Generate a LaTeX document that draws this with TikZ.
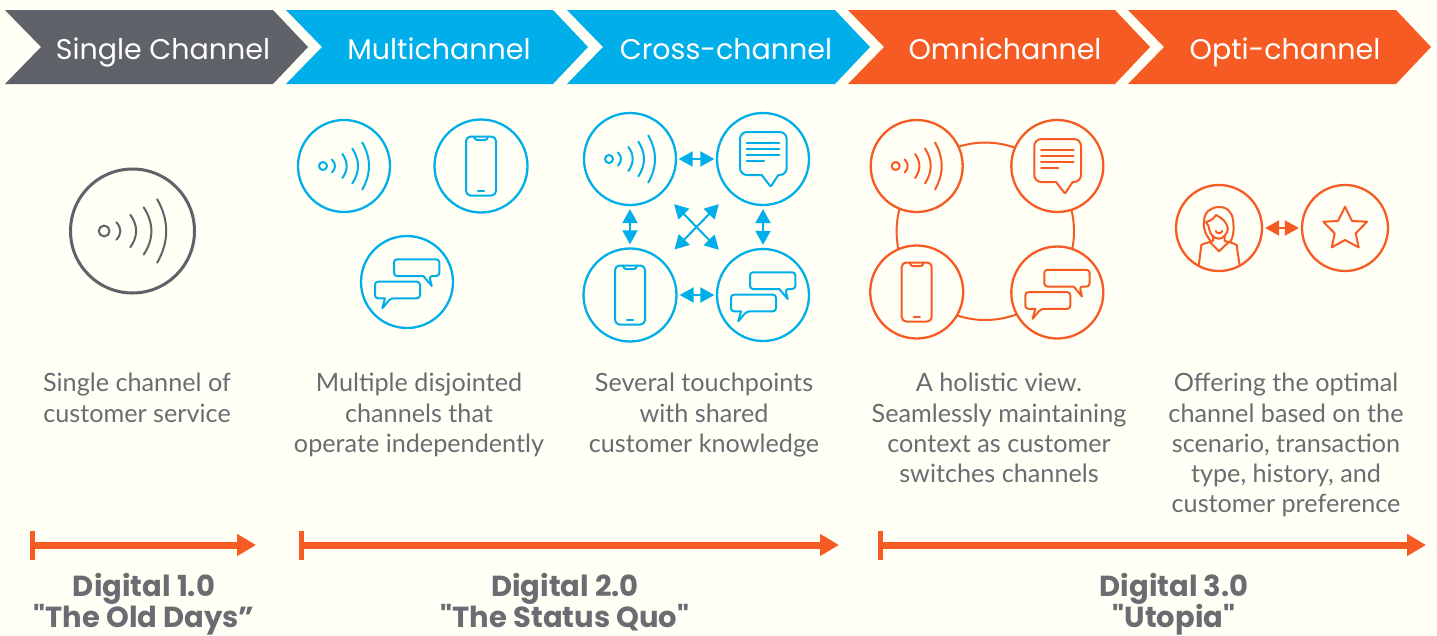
\documentclass[tikz,border=0pt]{standalone}
\usepackage{fontspec}
\setmainfont{Lato}
\newfontfamily\headfont{Poppins}
\usetikzlibrary{arrows.meta}
\definecolor{bgc}{HTML}{FFFFF5}
\definecolor{greyc}{HTML}{606269}
\definecolor{bluec}{HTML}{00AEEA}
\definecolor{orangec}{HTML}{F55B23}
\definecolor{textc}{HTML}{6A6C72}
\tikzset{
  ring/.style={circle,draw=#1,line width=2.3pt,fill=bgc,inner sep=0pt},
  icon/.style={draw=#1,line width=2pt,line join=round,line cap=round},
  chevlabel/.style={text=white,anchor=base,inner sep=0pt,font=\headfont\fontsize{28.5}{32}\selectfont},
  bodytext/.style={text=textc,align=center,anchor=north,inner sep=0pt,font=\fontsize{25.2}{30.3}\selectfont},
  eralabel/.style={text=textc,align=center,anchor=base,inner sep=0pt,font=\headfont\bfseries\fontsize{29}{35}\selectfont},
  link/.style={draw=#1,line width=2pt,{Triangle[length=14pt,width=15pt]}-{Triangle[length=14pt,width=15pt]}},
  erabar/.style={draw=orangec,line width=7pt,-{Triangle[length=19pt,width=21pt,inset=0pt]}},
  eratick/.style={draw=orangec,line width=5pt},
}
\newcommand{\chevron}[3]{\fill[#3] (#1,10) -- (#1+#2,10) -- (#1+#2+35,47) -- (#1+#2,84) -- (#1,84) -- (#1+36,47) -- cycle;}
\newcommand{\wifiicon}[3]{\begin{scope}[shift={(#1)},scale=#2]
  \draw[icon=#3] (-21,0) circle (4);
  \draw[icon=#3] (-12,-6.5) .. controls (-8,-2.2) and (-8,2.2) .. (-12,6.5);
  \draw[icon=#3] (-1.6,-12) .. controls (4.1,-4) and (4.1,4) .. (-1.6,12);
  \draw[icon=#3] (8.3,-17.5) .. controls (15.9,-5.8) and (15.9,5.8) .. (8.3,17.5);
  \draw[icon=#3] (18.3,-23.5) .. controls (27.2,-7.8) and (27.2,7.8) .. (18.3,23.5);
\end{scope}}
\newcommand{\phoneicon}[2]{\begin{scope}[shift={(#1)}]
  \draw[icon=#2,rounded corners=4.5] (-15,-29.5) rectangle (15,29.5);
  \draw[icon=#2] (-7,-29.5) .. controls (-6,-26.5) .. (-4,-26) -- (4,-26) .. controls (6,-26.5) .. (7,-29.5);
  \draw[icon=#2] (-3.2,24.5) -- (3.2,24.5);
\end{scope}}
\newcommand{\chaticon}[2]{\begin{scope}[shift={(#1)}]
  \draw[icon=#2,rounded corners=3] (-13,-22.7) -- (32.3,-22.7) -- (32.3,-6) -- (22.3,-6) [sharp corners] -- (24.7,4) -- (16.3,-6) [rounded corners=3] -- (-13,-6) -- cycle;
  \draw[icon=#2,rounded corners=3] (-32,-0.3) -- (13,-0.3) -- (13,16.3) -- (-16.3,16.3) [sharp corners] -- (-24.7,26.3) -- (-22,16.3) [rounded corners=3] -- (-32,16.3) -- cycle;
\end{scope}}
\newcommand{\msgicon}[2]{\begin{scope}[shift={(#1)}]
  \draw[icon=#2,rounded corners=7] (-23,-27) -- (23.7,-27) -- (23.7,16) [sharp corners] -- (15.3,16) [rounded corners=1] -- (7.7,27.7) [sharp corners] -- (-1.3,16) [rounded corners=7] -- (-23,16) -- cycle;
  \draw[icon=#2] (-16.3,-16.3) -- (16.3,-16.3) (-16.3,-10) -- (16.3,-10) (-16.3,-3.7) -- (16.3,-3.7) (-16.3,2.3) -- (1,2.3);
\end{scope}}
\begin{document}
\begin{tikzpicture}[x=1pt,y=-1pt]
\useasboundingbox (0,0) rectangle (1437,635);
\fill[bgc] (0,0) rectangle (1437,635);
% chevrons
\chevron{5}{268}{greyc}
\chevron{286}{267}{bluec}
\chevron{567}{268}{bluec}
\chevron{848}{267}{orangec}
\chevron{1128}{268}{orangec}
\node[chevlabel] (h1) at (163,59) {Single Channel};
\node[chevlabel] (h2) at (439,59) {Multichannel};
\node[chevlabel] (h3) at (726,59) {Cross-channel};
\node[chevlabel] (h4) at (1005,59) {Omnichannel};
\node[chevlabel] (h5) at (1285,59) {Opti-channel};
% single
\node[ring=greyc,minimum size=124pt,line width=3pt] (s1) at (132.5,231) {};
\wifiicon{132.5,231}{1.35}{greyc}
% multi
\node[ring=bluec,minimum size=92pt] (m1) at (344,166) {};
\node[ring=bluec,minimum size=93pt] (m2) at (481,166) {};
\node[ring=bluec,minimum size=92pt] (m3) at (407,282) {};
\wifiicon{344,166}{1}{bluec}
\phoneicon{481,166}{bluec}
\chaticon{407,282}{bluec}
% cross
\node[ring=bluec,minimum size=92pt] (c1) at (630,159) {};
\node[ring=bluec,minimum size=92pt] (c2) at (763,159) {};
\node[ring=bluec,minimum size=93pt] (c3) at (630,295) {};
\node[ring=bluec,minimum size=92pt] (c4) at (763,295) {};
\wifiicon{630,159}{1}{bluec}
\msgicon{763,159}{bluec}
\phoneicon{630,295}{bluec}
\chaticon{763,295}{bluec}
\draw[link=bluec,shorten <=1.5pt,shorten >=1.5pt] (c1) -- (c2);
\draw[link=bluec,shorten <=2pt,shorten >=1.5pt] (c3) -- (c4);
\draw[link=bluec,shorten <=3pt,shorten >=3pt] (c1) -- (c3);
\draw[link=bluec,shorten <=3pt,shorten >=3pt] (c2) -- (c4);
\draw[link=bluec,shorten <=16pt,shorten >=16pt] (c1) -- (c4);
\draw[link=bluec,shorten <=16pt,shorten >=16pt] (c2) -- (c3);
% omni
\coordinate (oc) at (985.3,231.3);
\draw[draw=orangec,line width=2pt] (oc) circle (88.7);
\node[ring=orangec,minimum size=92pt] (o1) at (916.7,166) {};
\node[ring=orangec,minimum size=92pt] (o2) at (1057.3,166) {};
\node[ring=orangec,minimum size=93pt] (o3) at (916.7,292) {};
\node[ring=orangec,minimum size=92pt] (o4) at (1057.3,292.5) {};
\wifiicon{916.7,166}{1}{orangec}
\msgicon{1057.3,166}{orangec}
\phoneicon{916.7,292}{orangec}
\chaticon{1057.3,292.5}{orangec}
% opti
\node[ring=orangec,minimum size=86pt] (p1) at (1219,228) {};
\node[ring=orangec,minimum size=86pt] (p2) at (1345,228) {};
\begin{scope}[shift={(1219,228)}]
  \draw[icon=orangec] (-7.7,14) .. controls (-14,6) and (-16,0) .. (-15,-6) .. controls (-15,-16) and (-9,-20) .. (-1,-21) .. controls (8,-21.5) and (13,-16) .. (14,-8) .. controls (15,0) and (15,8) .. (11.3,14);
  \draw[icon=orangec] (-13,-6) .. controls (-8,-7) and (-5,-10) .. (-3,-13) .. controls (3,-10) and (8,-6) .. (9,1) .. controls (8,6) and (4,10.7) .. (0,10.7) .. controls (-5,10.7) and (-9,6) .. (-9.5,2) .. controls (-10,-1) and (-11,-4) .. (-13,-6);
  \draw[icon=orangec] (-3.3,3) .. controls (-2,6) and (2,6) .. (3.3,3);
  \draw[icon=orangec] (-6,8) -- (-6,13) -- (-9.3,14) -- (0,23.3) -- (9.7,14) -- (5.7,13) -- (5.7,8);
  \draw[icon=orangec] (-9.3,14) -- (-16,16) .. controls (-18,17) .. (-18,20) -- (-20.3,37.5);
  \draw[icon=orangec] (9.7,14) -- (16,16) .. controls (18,17) .. (18,20) -- (20.7,37.5);
\end{scope}
\draw[icon=orangec] (1345,206.7) -- (1352,221) -- (1367,221.7) -- (1355.7,233.4) -- (1358.7,247.4) -- (1345,240) -- (1331.7,247.4) -- (1334.7,233.4) -- (1323.3,221.7) -- (1338,221) -- cycle;
\draw[link=orangec,shorten <=2pt,shorten >=2pt] (p1) -- (p2);
% body
\node[bodytext] (t1) at (137,373) {Single channel of\\customer service};
\node[bodytext] (t2) at (419,373) {Multiple disjointed\\channels that\\operate independently};
\node[bodytext] (t3) at (704,373) {Several touchpoints\\with shared\\customer knowledge};
\node[bodytext] (t4) at (999,373) {A holistic view.\\Seamlessly maintaining\\context as customer\\switches channels};
\node[bodytext] (t5) at (1286,373) {Offering the optimal\\channel based on the\\scenario, transaction\\type, history, and\\customer preference};
% era bars
\coordinate (a1) at (32,545); \coordinate (b1) at (256,545);
\coordinate (a2) at (301,545); \coordinate (b2) at (839,545);
\coordinate (a3) at (880,545); \coordinate (b3) at (1426,545);
\coordinate (u1) at (32,531); \coordinate (v1) at (32,560);
\coordinate (u2) at (301,531); \coordinate (v2) at (301,560);
\coordinate (u3) at (880,531); \coordinate (v3) at (880,560);
\draw[erabar] (a1) -- (b1); \draw[eratick] (u1) -- (v1);
\draw[erabar] (a2) -- (b2); \draw[eratick] (u2) -- (v2);
\draw[erabar] (a3) -- (b3); \draw[eratick] (u3) -- (v3);
\node[eralabel] (e1) at (144,596) {Digital 1.0};
\node[eralabel] (e1b) at (144,627) {"The Old Days”};
\node[eralabel] (e2) at (565,596) {Digital 2.0};
\node[eralabel] (e2b) at (565,627) {"The Status Quo"};
\node[eralabel] (e3) at (1174,596) {Digital 3.0};
\node[eralabel] (e3b) at (1174,627) {"Utopia"};
\end{tikzpicture}
\end{document}
